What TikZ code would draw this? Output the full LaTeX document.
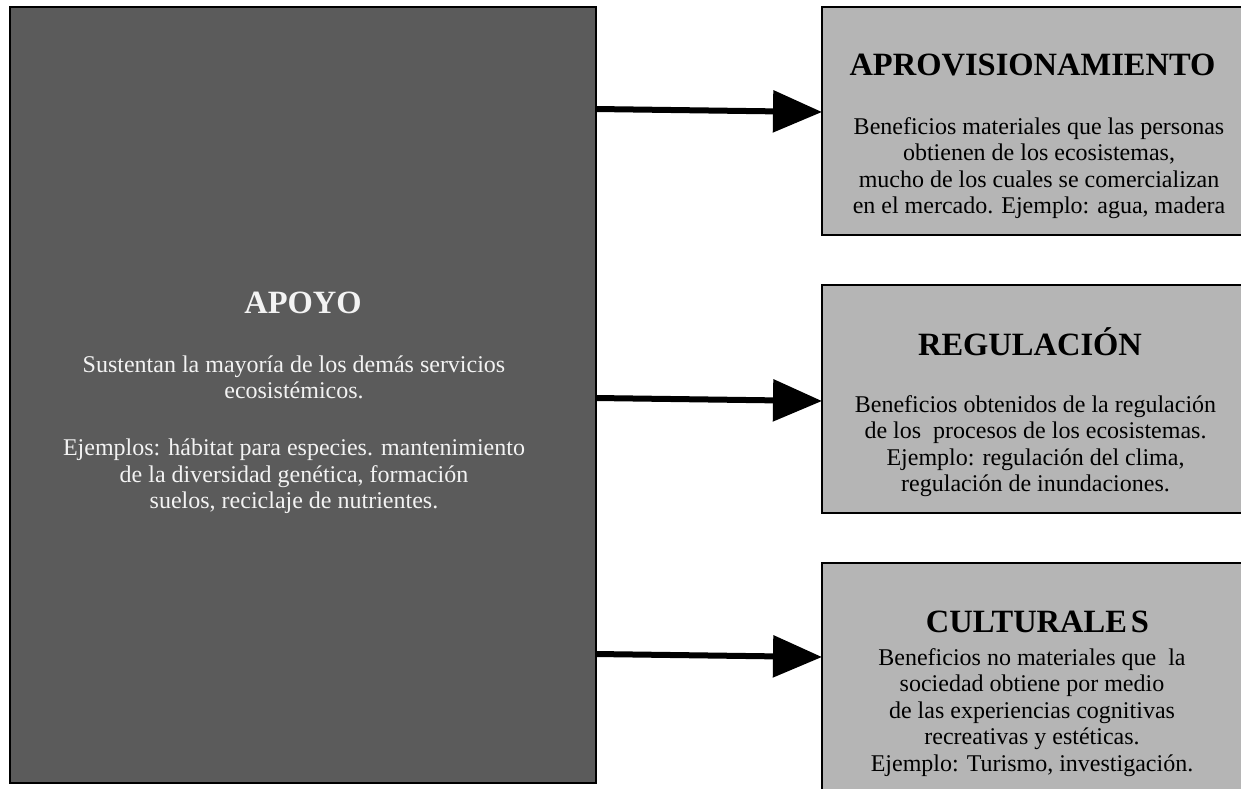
\documentclass[tikz,border=0pt]{standalone}
\usepackage{fontspec}
\setmainfont{Liberation Serif}
\usetikzlibrary{arrows.meta}
\definecolor{darkfill}{RGB}{91,91,91}
\definecolor{lightfill}{RGB}{181,181,181}
\definecolor{paletext}{RGB}{243,243,243}
\begin{document}
\begin{tikzpicture}[x=1pt,y=1pt,
  panel/.style={draw=black, line width=2pt, inner sep=0pt, outer sep=0pt, anchor=north west},
  heading/.style={font=\fontsize{32.5}{36}\selectfont\bfseries, inner sep=0pt},
  bodytext/.style={font=\fontsize{24}{26.5}\selectfont, align=center, inner sep=0pt},
  link/.style={line width=6pt, -{Triangle[length=49pt,width=41pt]}}]
  \lineskiplimit=-50pt
  \useasboundingbox (0,0) rectangle (1241,-788);
  \clip (0,0) rectangle (1241,-788);

  % supporting services panel
  \node[panel, fill=darkfill, minimum width=586pt, minimum height=776pt] (apoyo) at (10,-7) {};
  \node[heading, text=paletext] (apoyoT) at (303,-303) {APOYO};
  \node[bodytext, text=paletext] (apoyoB) at (294,-434.5)
    {Sustentan la mayoría de los demás servicios\\
     ecosistémicos.\\[30.5pt]
     Ejemplos: hábitat para especies. mantenimiento\\
     de la diversidad genética, formación\\
     suelos, reciclaje de nutrientes.};

  % provisioning panel
  \node[panel, fill=lightfill, minimum width=430pt, minimum height=228pt] (prov) at (822,-7) {};
  \node[heading] (provT) at (1032.5,-65) {APROVISIONAMIENTO};
  \node[bodytext] (provB) at (1039,-168)
    {Beneficios materiales que las personas\\
     obtienen de los ecosistemas,\\
     mucho de los cuales se comercializan\\
     en el mercado. Ejemplo: agua, madera};

  % regulating panel
  \node[panel, fill=lightfill, minimum width=430pt, minimum height=228pt] (reg) at (822,-285) {};
  \node[heading] (regT) at (1030,-342) {REGULACIÓN};
  \node[bodytext] (regB) at (1035.5,-446)
    {Beneficios obtenidos de la regulación\\
     de los\ \ procesos de los ecosistemas.\\
     Ejemplo: regulación del clima,\\
     regulación de inundaciones.};

  % cultural panel
  \node[panel, fill=lightfill, minimum width=430pt, minimum height=240pt] (cult) at (822,-563) {};
  \node[heading] (cultT) at (1037.5,-622) {CULTURALE\kern4pt S};
  \node[bodytext] (cultB) at (1032,-712.5)
    {Beneficios no materiales que\ \ la\\
     sociedad obtiene por medio\\
     de las experiencias cognitivas\\
     recreativas y estéticas.\\
     Ejemplo: Turismo, investigación.};

  % connectors
  \draw[link] (apoyo.east |- 0,-109) -- (prov.west |- 0,-112);
  \draw[link] (apoyo.east |- 0,-398) -- (reg.west |- 0,-401);
  \draw[link] (apoyo.east |- 0,-654) -- (cult.west |- 0,-657);
\end{tikzpicture}
\end{document}
